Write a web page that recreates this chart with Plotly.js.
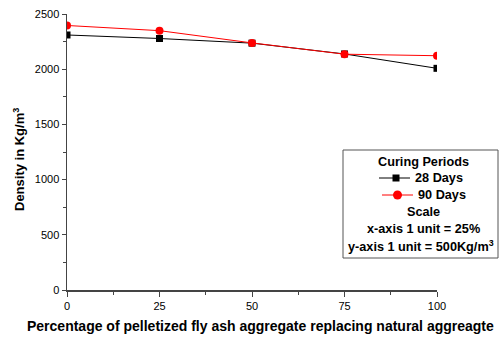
<!DOCTYPE html>
<html><head><meta charset="utf-8">
<script src="https://cdn.plot.ly/plotly-3.0.1.min.js"></script>
<style>html,body{margin:0;padding:0;background:#fff}</style>
</head><body><div id="chart" style="width:499px;height:338px"></div>
<script>
const xPercent = [0, 25, 50, 75, 100];
const density28 = [2310, 2278, 2236, 2138, 2008];
const density90 = [2396, 2349, 2238, 2136, 2122];
const xTicks = [0, 25, 50, 75, 100];
const yTicks = [0, 500, 1000, 1500, 2000, 2500];

const W = 499, H = 338, L = 67, R = 62, T = 14, B = 48;
const pw = W - L - R, ph = H - T - B;
const px = v => (v - L) / pw;
const py = v => (H - B - v) / ph;
const FONT = 'Liberation Sans, Arial, sans-serif';

const traces = [
  {x: xPercent, y: density28, type: 'scatter', mode: 'lines+markers', name: '28 Days',
   line: {color: '#000', width: 1}, marker: {symbol: 'square', size: 7, color: '#000'}},
  {x: xPercent, y: density90, type: 'scatter', mode: 'lines+markers', name: '90 Days',
   line: {color: '#ff0000', width: 1}, marker: {symbol: 'circle', size: 8, color: '#ff0000'}}
];

const shapes = [
  {type: 'rect', xref: 'paper', yref: 'paper', x0: px(343), x1: px(498), y0: py(258), y1: py(150),
   line: {color: '#555', width: 1}, fillcolor: '#fff', layer: 'above'},
  {type: 'line', xref: 'paper', yref: 'paper', x0: px(379), x1: px(410), y0: py(178), y1: py(178), line: {color: '#000', width: 1}},
  {type: 'rect', xref: 'paper', yref: 'paper', x0: px(392.5), x1: px(399.5), y0: py(181.5), y1: py(174.5), line: {width: 0}, fillcolor: '#000'},
  {type: 'line', xref: 'paper', yref: 'paper', x0: px(382), x1: px(413), y0: py(195), y1: py(195), line: {color: '#ff0000', width: 1}},
  {type: 'circle', xref: 'paper', yref: 'paper', x0: px(393), x1: px(402), y0: py(199.5), y1: py(190.5), line: {width: 0}, fillcolor: '#ff0000'}
];

const LS = 12.7;
const ann = (text, xpix, ypix, anchor) => ({
  text: '<b>' + text + '</b>', xref: 'paper', yref: 'paper', x: px(xpix), y: py(ypix), xanchor: anchor, yanchor: 'middle',
  showarrow: false, font: {family: FONT, size: LS, color: '#000'}
});

const annotations = [
  ann('Curing Periods', 423, 162, 'center'),
  ann('28 Days', 413, 178, 'left'),
  ann('90 Days', 416, 195, 'left'),
  ann('Scale', 423, 212, 'center'),
  ann('x-axis 1 unit = 25%', 423, 229, 'center'),
  ann('y-axis 1 unit = 500Kg/m<sup>3</sup>', 421, 246, 'center'),
  {text: '<b>Percentage of pelletized fly ash aggregate replacing natural aggreagte</b>', xref: 'paper', yref: 'paper',
   x: px(25), y: py(326), xanchor: 'left', yanchor: 'middle', showarrow: false,
   font: {family: FONT, size: 14, color: '#000'}},
  {text: '<b>Density in Kg/m<sup>3</sup></b>', xref: 'paper', yref: 'paper', textangle: -90,
   x: px(19), y: py(160), xanchor: 'center', yanchor: 'middle', showarrow: false,
   font: {family: FONT, size: 13, color: '#000'}}
];

const layout = {
  width: W, height: H,
  margin: {l: L, r: R, t: T, b: B, pad: 0},
  paper_bgcolor: '#fff', plot_bgcolor: '#fff',
  showlegend: false,
  font: {family: FONT, size: 11, color: '#000'},
  xaxis: {range: [0, 100], tickvals: xTicks, ticktext: xTicks.map(String), showgrid: false, zeroline: false,
    showline: true, linecolor: '#444', linewidth: 1.5, ticks: 'outside', ticklen: 5, tickcolor: '#444', tickwidth: 1,
    minor: {dtick: 12.5, ticks: 'outside', ticklen: 3, tickcolor: '#444', showgrid: false},
    tickfont: {family: FONT, size: 11, color: '#000'}},
  yaxis: {range: [0, 2500], tickvals: yTicks, ticktext: yTicks.map(String), showgrid: false, zeroline: false,
    showline: true, linecolor: '#444', linewidth: 1.5, ticks: 'outside', ticklen: 4, tickcolor: '#444', tickwidth: 1,
    minor: {dtick: 250, ticks: 'outside', ticklen: 3, tickcolor: '#444', showgrid: false},
    tickfont: {family: FONT, size: 11, color: '#000'}},
  shapes: shapes,
  annotations: annotations
};

Plotly.newPlot('chart', traces, layout, {displayModeBar: false, staticPlot: true});
</script></body></html>
